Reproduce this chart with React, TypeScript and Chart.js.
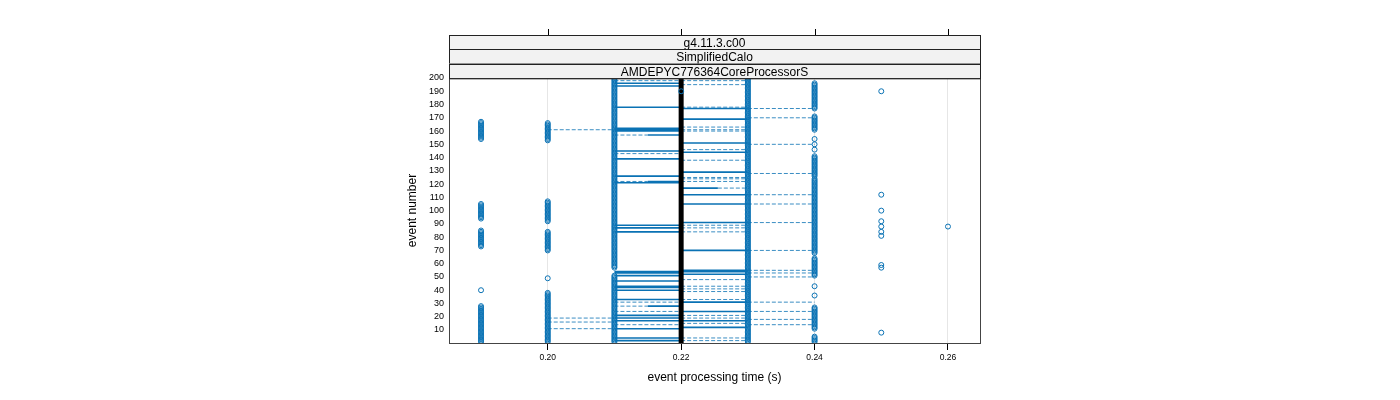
import React, { useEffect, useRef } from "react";
import { Chart, registerables } from "chart.js";

Chart.register(...registerables);

// ---- data ----
const stripLabels = ["g4.11.3.c00", "SimplifiedCalo", "AMDEPYC776364CoreProcessorS"];
const xTickValues = [0.2, 0.22, 0.24, 0.26];
const yTickValues = [10, 20, 30, 40, 50, 60, 70, 80, 90, 100, 110, 120, 130, 140, 150, 160, 170, 180, 190, 200];
const xLimits = [0.1852, 0.2648];
const yLimits = [0.2, 200];
const medianTime = 0.22;

// event-number ranges [first, last] observed at each processing time
const eventsAt019 = [[1, 28], [40, 40], [73, 85], [94, 105], [154, 167]];
const eventsAt020 = [[1, 38], [49, 49], [70, 84], [92, 107], [153, 166]];
const eventsAt021 = [[1, 51], [57, 200]];
const eventsAt022 = [[190, 190]];
const eventsAt023 = [[1, 200]];
const eventsAt024 = [[1, 5], [11, 27], [36, 36], [43, 43], [51, 64], [68, 124], [126, 141], [146, 146], [150, 150], [154, 154], [161, 171], [177, 196]];
const eventsAt025 = [[8, 8], [57, 57], [59, 59], [81, 81], [84, 84], [88, 88], [92, 92], [100, 100], [112, 112], [190, 190]];
const eventsAt026 = [[88, 88]];
const timeColumns: [number, number[][]][] = [
  [0.19, eventsAt019], [0.2, eventsAt020], [0.21, eventsAt021], [0.22, eventsAt022],
  [0.23, eventsAt023], [0.24, eventsAt024], [0.25, eventsAt025], [0.26, eventsAt026],
];

// segments: [event, fromTime, toTime]
const solidSegments = [
  [196, 0.21, 0.22], [194, 0.21, 0.22], [178, 0.21, 0.22], [162, 0.21, 0.22], [161, 0.21, 0.22],
  [160, 0.21, 0.22], [145, 0.21, 0.22], [139, 0.21, 0.22], [126, 0.21, 0.22], [121, 0.21, 0.22],
  [89, 0.21, 0.22], [87, 0.21, 0.22], [84, 0.21, 0.22], [54, 0.21, 0.22], [53, 0.21, 0.22],
  [51, 0.21, 0.22], [47, 0.21, 0.22], [43, 0.21, 0.22], [42, 0.21, 0.22], [40, 0.21, 0.22],
  [33, 0.21, 0.22], [21, 0.21, 0.22], [19, 0.21, 0.22], [17, 0.21, 0.22], [11, 0.21, 0.22],
  [4, 0.21, 0.22], [2, 0.21, 0.22],
  [157, 0.215, 0.22], [122, 0.215, 0.22], [28, 0.215, 0.22],
  [177, 0.22, 0.23], [169, 0.22, 0.23], [151, 0.22, 0.23], [144, 0.22, 0.23], [129, 0.22, 0.23],
  [112, 0.22, 0.23], [105, 0.22, 0.23], [91, 0.22, 0.23], [70, 0.22, 0.23], [55, 0.22, 0.23],
  [54, 0.22, 0.23], [52, 0.22, 0.23], [31, 0.22, 0.23], [24, 0.22, 0.23], [17, 0.22, 0.23],
  [12, 0.22, 0.23], [117, 0.22, 0.2255],
];
const dashedSegments = [
  [161, 0.2, 0.21], [19, 0.2, 0.21], [16, 0.2, 0.21], [11, 0.2, 0.21],
  [198, 0.21, 0.22], [143, 0.21, 0.22], [31, 0.21, 0.22], [24, 0.21, 0.22], [14, 0.21, 0.22],
  [157, 0.21, 0.215], [122, 0.21, 0.215], [28, 0.21, 0.215],
  [198, 0.22, 0.23], [195, 0.22, 0.23], [178, 0.22, 0.23], [163, 0.22, 0.23], [161, 0.22, 0.23],
  [160, 0.22, 0.23], [146, 0.22, 0.23], [138, 0.22, 0.23], [125, 0.22, 0.23], [124, 0.22, 0.23],
  [122, 0.22, 0.23], [89, 0.22, 0.23], [87, 0.22, 0.23], [84, 0.22, 0.23], [48, 0.22, 0.23],
  [43, 0.22, 0.23], [41, 0.22, 0.23], [39, 0.22, 0.23], [33, 0.22, 0.23], [21, 0.22, 0.23],
  [19, 0.22, 0.23], [15, 0.22, 0.23], [4, 0.22, 0.23], [2, 0.22, 0.23], [117, 0.2255, 0.23],
  [177, 0.23, 0.24], [170, 0.23, 0.24], [150, 0.23, 0.24], [128, 0.23, 0.24], [112, 0.23, 0.24],
  [105, 0.23, 0.24], [91, 0.23, 0.24], [70, 0.23, 0.24], [55, 0.23, 0.24], [53, 0.23, 0.24],
  [50, 0.23, 0.24], [31, 0.23, 0.24], [24, 0.23, 0.24], [18, 0.23, 0.24], [14, 0.23, 0.24],
];

const BLUE = "#0a72b4";
const FONT = "'Liberation Sans', Arial, Helvetica, sans-serif";

function buildPoints() {
  const pts: { x: number; y: number }[] = [];
  for (const [t, ranges] of timeColumns) {
    for (const [a, b] of ranges) {
      for (let e = a; e <= b; e++) pts.push({ x: t, y: e });
    }
  }
  return pts;
}

function buildSegments(segs: number[][]) {
  const out: { x: number; y: number | null }[] = [];
  for (const [e, x0, x1] of segs) {
    out.push({ x: x0, y: e }, { x: x1, y: e }, { x: x1, y: null });
  }
  return out;
}

const decorPlugin = {
  id: "latticeDecor",
  beforeDatasetDraw(chart: any, args: any) {
    if (args.index !== 0) return;
    const { ctx, chartArea, scales } = chart;
    const px = scales.x.getPixelForValue(medianTime);
    ctx.save();
    ctx.strokeStyle = "#000";
    ctx.lineWidth = 5;
    ctx.beginPath();
    ctx.moveTo(px, chartArea.top);
    ctx.lineTo(px, chartArea.bottom);
    ctx.stroke();
    ctx.restore();
  },
  afterDraw(chart: any) {
    const { ctx, chartArea, scales } = chart;
    const { left, right, top, bottom } = chartArea;
    ctx.save();
    // frame
    ctx.strokeStyle = "#444";
    ctx.lineWidth = 1;
    ctx.strokeRect(left + 0.5, top + 0.5, right - left, bottom - top);
    // strips
    const stripH = 14.33;
    const nStrips = stripLabels.length;
    for (let i = 0; i < nStrips; i++) {
      const y0 = top - (nStrips - i) * stripH;
      ctx.fillStyle = "#f2f2f2";
      ctx.fillRect(left, y0, right - left, stripH);
      ctx.strokeStyle = "#222";
      ctx.strokeRect(left + 0.5, Math.round(y0) + 0.5, right - left, stripH);
      ctx.fillStyle = "#000";
      ctx.font = `12px ${FONT}`;
      ctx.textAlign = "center";
      ctx.textBaseline = "middle";
      ctx.fillText(stripLabels[i], (left + right) / 2, y0 + stripH / 2 + 1.5);
    }
    // top tick marks
    const stripTop = Math.round(top - nStrips * stripH);
    ctx.strokeStyle = "#000";
    for (const v of xTickValues) {
      const px = Math.round(scales.x.getPixelForValue(v)) + 0.5;
      ctx.beginPath();
      ctx.moveTo(px, stripTop);
      ctx.lineTo(px, stripTop - 6);
      ctx.stroke();
    }
    // axis titles
    ctx.fillStyle = "#000";
    ctx.font = `12px ${FONT}`;
    ctx.textAlign = "center";
    ctx.textBaseline = "middle";
    ctx.fillText("event processing time (s)", (left + right) / 2, 378);
    ctx.translate(413, (top + bottom) / 2);
    ctx.rotate(-Math.PI / 2);
    ctx.fillText("event number", 0, 0);
    ctx.restore();
  },
};

export default function App() {
  const ref = useRef<HTMLCanvasElement | null>(null);
  useEffect(() => {
    if (!ref.current) return;
    const chart = new Chart(ref.current, {
      type: "scatter",
      data: {
        datasets: [
          {
            label: "events",
            data: buildPoints(),
            pointStyle: "circle",
            pointRadius: 2.5,
            pointBorderWidth: 1,
            pointBorderColor: BLUE,
            pointBackgroundColor: "rgba(0,0,0,0)",
            showLine: false,
          },
          {
            label: "solid",
            data: buildSegments(solidSegments) as any,
            showLine: true,
            spanGaps: false,
            borderColor: BLUE,
            borderWidth: 1.6,
            pointRadius: 0,
          },
          {
            label: "dashed",
            data: buildSegments(dashedSegments) as any,
            showLine: true,
            spanGaps: false,
            borderColor: "rgba(10,114,180,0.8)",
            borderWidth: 1,
            borderDash: [4, 2],
            pointRadius: 0,
          },
        ],
      },
      options: {
        animation: false,
        responsive: false,
        devicePixelRatio: 1,
        layout: { padding: { left: 409, right: 420, top: 78, bottom: 0 } },
        plugins: { legend: { display: false }, tooltip: { enabled: false } },
        scales: {
          x: {
            type: "linear",
            min: xLimits[0],
            max: xLimits[1],
            afterBuildTicks: (s: any) => { s.ticks = xTickValues.map((v) => ({ value: v })); },
            afterFit: (s: any) => { s.height = 57; },
            grid: { color: "#e6e6e6", tickColor: "#000", tickLength: 7, drawTicks: true, drawOnChartArea: true },
            border: { display: false },
            ticks: {
              font: { family: FONT, size: 8.5 },
              color: "#000",
              padding: 3,
              maxRotation: 0,
              callback: (v: any) => Number(v).toFixed(2),
            },
          },
          y: {
            type: "linear",
            min: yLimits[0],
            max: yLimits[1],
            afterBuildTicks: (s: any) => { s.ticks = yTickValues.map((v) => ({ value: v })); },
            afterFit: (s: any) => { s.width = 40; },
            grid: { display: false, drawTicks: false },
            border: { display: false },
            ticks: {
              font: { family: FONT, size: 9 },
              color: "#000",
              padding: 5,
              callback: (v: any) => String(v),
            },
          },
        },
      },
      plugins: [decorPlugin],
    });
    return () => chart.destroy();
  }, []);
  return (
    <div style={{ position: "absolute", left: 0, top: 0, width: 1400, height: 400, background: "#fff" }}>
      <canvas ref={ref} width={1400} height={400} style={{ width: 1400, height: 400, display: "block" }} />
    </div>
  );
}
